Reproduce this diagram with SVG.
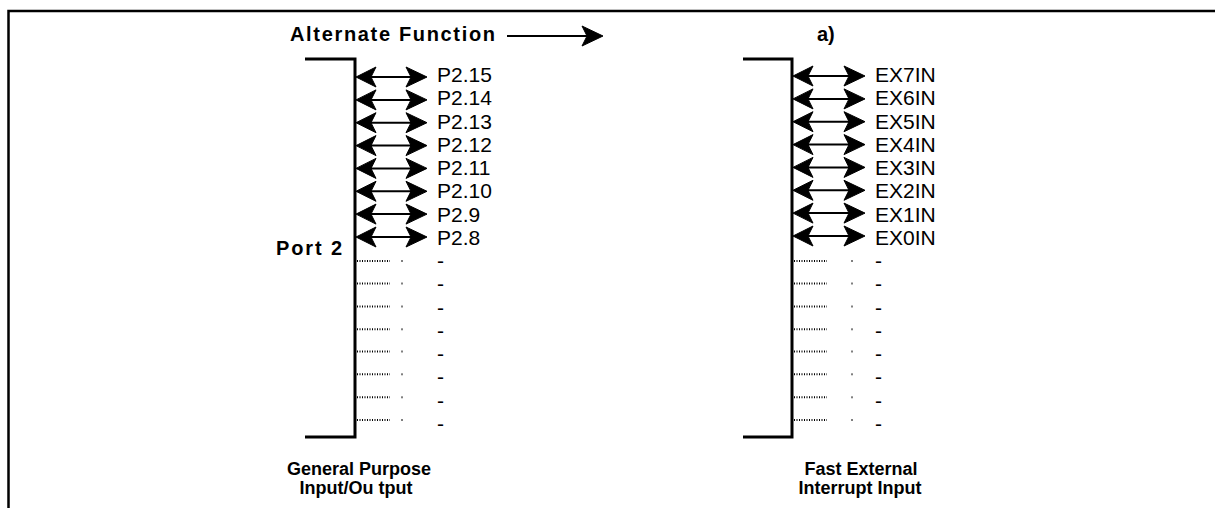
<svg xmlns="http://www.w3.org/2000/svg" xmlns:xlink="http://www.w3.org/1999/xlink" width="1215" height="508" viewBox="0 0 1215 508">
<style>
.lbl{font-family:"Liberation Sans",Arial,sans-serif;font-size:21px;fill:#000}
.bold{font-family:"Liberation Sans",Arial,sans-serif;font-weight:bold;font-size:20px;fill:#000}
.cap{font-family:"Liberation Sans",Arial,sans-serif;font-weight:bold;font-size:18px;fill:#000}
.brk{fill:none;stroke:#000;stroke-width:3}
.ln{stroke:#000;stroke-width:2}
.dots{stroke:#000;stroke-width:2;stroke-dasharray:1 1.5}
.tick{stroke:#000;stroke-width:1}
.hd{fill:#000;stroke:#000;stroke-width:1;stroke-linejoin:miter}
</style>
<defs>
<path id="hl" class="hd" d="M0,0 L20,-10 L15,0 L20,10 Z"/>
<path id="hr" class="hd" d="M0,0 L-21,-10 L-16,0 L-21,10 Z"/>
</defs>
<rect width="1215" height="508" fill="#fff"/>
<path d="M8.5,508 V11 H1215" fill="none" stroke="#000" stroke-width="2.5"/>
<g id="title">
<text class="bold" x="290" y="41" textLength="205" lengthAdjust="spacing">Alternate Function</text>
<text class="bold" x="817" y="41">a)</text>
</g>
<g id="port2">
<path class="brk" d="M305,59 H355 V437 H305"/>
<text class="bold" x="276" y="255" textLength="66" lengthAdjust="spacing">Port 2</text>
<g class="lbl">
<text x="437" y="82">P2.15</text>
<text x="437" y="105.2">P2.14</text>
<text x="437" y="128.5">P2.13</text>
<text x="437" y="151.7">P2.12</text>
<text x="437" y="175">P2.11</text>
<text x="437" y="198.2">P2.10</text>
<text x="437" y="221.5">P2.9</text>
<text x="437" y="244.7">P2.8</text>
<text x="437" y="268">-</text>
<text x="437" y="291.2">-</text>
<text x="437" y="314.5">-</text>
<text x="437" y="337.7">-</text>
<text x="437" y="361">-</text>
<text x="437" y="384.2">-</text>
<text x="437" y="407.5">-</text>
<text x="437" y="430.7">-</text>
</g>
<g>
<line class="dots" x1="357" y1="261" x2="390" y2="261"/><line class="tick" x1="402" y1="260" x2="402" y2="262"/>
<line class="dots" x1="357" y1="283.5" x2="390" y2="283.5"/><line class="tick" x1="402" y1="282.5" x2="402" y2="284.5"/>
<line class="dots" x1="357" y1="306.5" x2="390" y2="306.5"/><line class="tick" x1="402" y1="305.5" x2="402" y2="307.5"/>
<line class="dots" x1="357" y1="329.3" x2="390" y2="329.3"/><line class="tick" x1="402" y1="328.3" x2="402" y2="330.3"/>
<line class="dots" x1="357" y1="351.5" x2="390" y2="351.5"/><line class="tick" x1="402" y1="350.5" x2="402" y2="352.5"/>
<line class="dots" x1="357" y1="374.3" x2="390" y2="374.3"/><line class="tick" x1="402" y1="373.3" x2="402" y2="375.3"/>
<line class="dots" x1="357" y1="397.3" x2="390" y2="397.3"/><line class="tick" x1="402" y1="396.3" x2="402" y2="398.3"/>
<line class="dots" x1="357" y1="420" x2="390" y2="420"/><line class="tick" x1="402" y1="419" x2="402" y2="421"/>
</g>
<text class="cap" x="359" y="475" text-anchor="middle">General Purpose</text>
<text class="cap" x="356" y="494" text-anchor="middle">Input/Ou tput</text>
</g>
<g id="fastint">
<path class="brk" d="M743,59 H792 V437 H743"/>
<g class="lbl">
<text x="875" y="82">EX7IN</text>
<text x="875" y="105.2">EX6IN</text>
<text x="875" y="128.5">EX5IN</text>
<text x="875" y="151.7">EX4IN</text>
<text x="875" y="175">EX3IN</text>
<text x="875" y="198.2">EX2IN</text>
<text x="875" y="221.5">EX1IN</text>
<text x="875" y="244.7">EX0IN</text>
<text x="875" y="268">-</text>
<text x="875" y="291.2">-</text>
<text x="875" y="314.5">-</text>
<text x="875" y="337.7">-</text>
<text x="875" y="361">-</text>
<text x="875" y="384.2">-</text>
<text x="875" y="407.5">-</text>
<text x="875" y="430.7">-</text>
</g>
<g>
<line class="dots" x1="794" y1="261" x2="827" y2="261"/><line class="tick" x1="852" y1="260" x2="852" y2="262"/>
<line class="dots" x1="794" y1="283.5" x2="827" y2="283.5"/><line class="tick" x1="852" y1="282.5" x2="852" y2="284.5"/>
<line class="dots" x1="794" y1="306.5" x2="827" y2="306.5"/><line class="tick" x1="852" y1="305.5" x2="852" y2="307.5"/>
<line class="dots" x1="794" y1="329.3" x2="827" y2="329.3"/><line class="tick" x1="852" y1="328.3" x2="852" y2="330.3"/>
<line class="dots" x1="794" y1="351.5" x2="827" y2="351.5"/><line class="tick" x1="852" y1="350.5" x2="852" y2="352.5"/>
<line class="dots" x1="794" y1="374.3" x2="827" y2="374.3"/><line class="tick" x1="852" y1="373.3" x2="852" y2="375.3"/>
<line class="dots" x1="794" y1="397.3" x2="827" y2="397.3"/><line class="tick" x1="852" y1="396.3" x2="852" y2="398.3"/>
<line class="dots" x1="794" y1="420" x2="827" y2="420"/><line class="tick" x1="852" y1="419" x2="852" y2="421"/>
</g>
<text class="cap" x="861" y="475" text-anchor="middle">Fast External</text>
<text class="cap" x="860" y="494" text-anchor="middle">Interrupt Input</text>
</g>
<g id="connectors">
<line class="ln" x1="507" y1="36" x2="590" y2="36"/><use xlink:href="#hr" x="603" y="36"/>
<g>
<line class="ln" x1="368" y1="77" x2="415" y2="77"/><use xlink:href="#hl" x="356" y="77"/><use xlink:href="#hr" x="427" y="77"/>
<line class="ln" x1="368" y1="99.9" x2="415" y2="99.9"/><use xlink:href="#hl" x="356" y="99.9"/><use xlink:href="#hr" x="427" y="99.9"/>
<line class="ln" x1="368" y1="122.7" x2="415" y2="122.7"/><use xlink:href="#hl" x="356" y="122.7"/><use xlink:href="#hr" x="427" y="122.7"/>
<line class="ln" x1="368" y1="145.6" x2="415" y2="145.6"/><use xlink:href="#hl" x="356" y="145.6"/><use xlink:href="#hr" x="427" y="145.6"/>
<line class="ln" x1="368" y1="168.4" x2="415" y2="168.4"/><use xlink:href="#hl" x="356" y="168.4"/><use xlink:href="#hr" x="427" y="168.4"/>
<line class="ln" x1="368" y1="191.3" x2="415" y2="191.3"/><use xlink:href="#hl" x="356" y="191.3"/><use xlink:href="#hr" x="427" y="191.3"/>
<line class="ln" x1="368" y1="214.1" x2="415" y2="214.1"/><use xlink:href="#hl" x="356" y="214.1"/><use xlink:href="#hr" x="427" y="214.1"/>
<line class="ln" x1="368" y1="237" x2="415" y2="237"/><use xlink:href="#hl" x="356" y="237"/><use xlink:href="#hr" x="427" y="237"/>
</g>
<g>
<line class="ln" x1="805" y1="76" x2="853" y2="76"/><use xlink:href="#hl" x="793" y="76"/><use xlink:href="#hr" x="865" y="76"/>
<line class="ln" x1="805" y1="98.9" x2="853" y2="98.9"/><use xlink:href="#hl" x="793" y="98.9"/><use xlink:href="#hr" x="865" y="98.9"/>
<line class="ln" x1="805" y1="121.7" x2="853" y2="121.7"/><use xlink:href="#hl" x="793" y="121.7"/><use xlink:href="#hr" x="865" y="121.7"/>
<line class="ln" x1="805" y1="144.6" x2="853" y2="144.6"/><use xlink:href="#hl" x="793" y="144.6"/><use xlink:href="#hr" x="865" y="144.6"/>
<line class="ln" x1="805" y1="167.4" x2="853" y2="167.4"/><use xlink:href="#hl" x="793" y="167.4"/><use xlink:href="#hr" x="865" y="167.4"/>
<line class="ln" x1="805" y1="190.3" x2="853" y2="190.3"/><use xlink:href="#hl" x="793" y="190.3"/><use xlink:href="#hr" x="865" y="190.3"/>
<line class="ln" x1="805" y1="213.1" x2="853" y2="213.1"/><use xlink:href="#hl" x="793" y="213.1"/><use xlink:href="#hr" x="865" y="213.1"/>
<line class="ln" x1="805" y1="236" x2="853" y2="236"/><use xlink:href="#hl" x="793" y="236"/><use xlink:href="#hr" x="865" y="236"/>
</g>
</g>
</svg>
